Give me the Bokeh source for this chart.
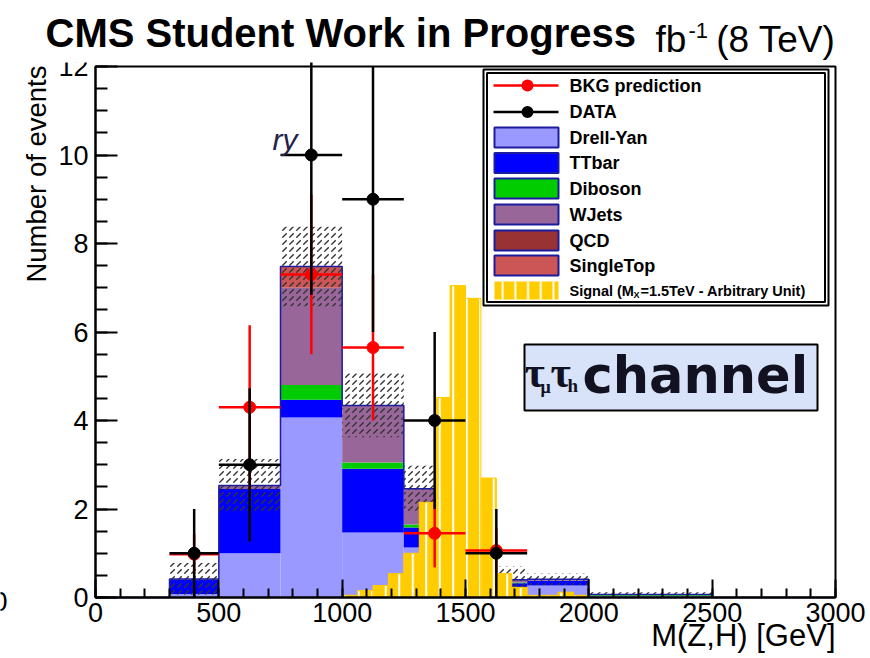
import numpy as np
from bokeh.plotting import figure
from bokeh.models import Range1d, SingleIntervalTicker, Label, BoxAnnotation
from bokeh.embed import file_html
from bokeh.resources import INLINE

# ---------------- background histogram binning [GeV] ----------------
bin_lo = [0, 100, 200, 300, 500, 750, 1000, 1250, 1500, 1750, 2000, 2500]
bin_hi = [100, 200, 300, 500, 750, 1000, 1250, 1500, 1750, 2000, 2500, 3000]

# simulated backgrounds, events per bin (stacked bottom -> top)
drell_yan = [0.00, 0.00, 0.00, 0.08, 1.00, 4.07, 1.47, 1.13, 0.22, 0.27, 0.04, 0.00]
ttbar     = [0.00, 0.00, 0.00, 0.32, 1.45, 0.40, 1.44, 0.45, 0.10, 0.11, 0.00, 0.00]
diboson   = [0.00, 0.00, 0.00, 0.00, 0.00, 0.33, 0.14, 0.07, 0.02, 0.00, 0.03, 0.00]
wjets     = [0.00, 0.00, 0.00, 0.02, 0.08, 2.20, 1.29, 0.81, 0.06, 0.03, 0.00, 0.00]
qcd       = [0.00, 0.00, 0.00, 0.00, 0.00, 0.00, 0.00, 0.00, 0.00, 0.00, 0.00, 0.00]
singletop = [0.00, 0.00, 0.00, 0.00, 0.00, 0.48, 0.00, 0.00, 0.00, 0.00, 0.00, 0.00]
mc_unc    = [0.00, 0.00, 0.00, 0.36, 0.60, 0.90, 0.72, 0.52, 0.30, 0.13, 0.05, 0.03]

stack_names = ["Drell-Yan", "TTbar", "Diboson", "WJets", "QCD", "SingleTop"]
stack_values = [drell_yan, ttbar, diboson, wjets, qcd, singletop]
stack_colors = ["#9999ff", "#0000ff", "#00cc00", "#996699", "#993333", "#cc5555"]

# signal M_X = 1.5 TeV (arbitrary normalisation), 62.5 GeV bins
sig_lo = [1000.0, 1062.5, 1125.0, 1187.5, 1250.0, 1312.5, 1375.0, 1437.5,
          1500.0, 1562.5, 1625.0, 1687.5, 1750.0, 1812.5, 1875.0, 1937.5]
sig_hi = [1062.5, 1125.0, 1187.5, 1250.0, 1312.5, 1375.0, 1437.5, 1500.0,
          1562.5, 1625.0, 1687.5, 1750.0, 1812.5, 1875.0, 1937.5, 2000.0]
signal = [0.05, 0.16, 0.27, 0.54, 1.00, 2.15, 4.52, 7.05,
          6.76, 2.70, 0.54, 0.23, 0.05, 0.05, 0.12, 0.05]

# observed events and data-driven background prediction
pt_mass     = [400, 625, 875, 1125, 1375, 1625]
pt_halfw    = [100, 125, 125, 125, 125, 125]
data_events = [1, 3, 10, 9, 4, 1]
data_err    = [1.00, 1.73, 3.16, 3.00, 2.00, 1.00]
bkg_pred    = [0.98, 4.30, 7.30, 5.65, 1.45, 1.06]
bkg_err     = [0.45, 1.85, 1.80, 1.65, 0.77, 0.50]

SANS = "Liberation Sans"
SERIF = "Liberation Serif"
RED = "#ff0000"
EDGE = "#1c1c9e"

# ---------------- canvas / frame geometry (pixels) ----------------
W, H = 870, 658
AX_L, AX_R, AX_T, AX_B = 95, 835, 66, 597      # where the axes box sits on the canvas
XMIN, XMAX, YMIN, YMAX = 0.0, 3000.0, 0.0, 12.0
xs = (XMAX - XMIN) / (AX_R - AX_L)
ys = (YMAX - YMIN) / (AX_B - AX_T)
x_range = Range1d(XMIN - AX_L * xs, XMAX + (W - AX_R) * xs)
y_range = Range1d(YMIN - (H - AX_B) * ys, YMAX + AX_T * ys)

p = figure(width=W, height=H, x_range=x_range, y_range=y_range,
           output_backend="svg", toolbar_location=None, min_border=0)
p.xgrid.visible = False
p.ygrid.visible = False
p.background_fill_color = "white"
p.border_fill_color = "white"
p.outline_line_color = None

# axes sit on the data origin inside the drawing area
p.xaxis.fixed_location = 0
p.yaxis.fixed_location = 0
p.xaxis.bounds = (XMIN, XMAX)
p.yaxis.bounds = (YMIN, YMAX)
p.xaxis.ticker = SingleIntervalTicker(interval=500, num_minor_ticks=5)
p.yaxis.ticker = SingleIntervalTicker(interval=2, num_minor_ticks=4)
for ax in (p.xaxis, p.yaxis):
    ax.axis_line_width = 2
    ax.axis_line_color = "black"
    ax.major_tick_line_width = 2
    ax.minor_tick_line_width = 2
    ax.major_tick_out = 0
    ax.minor_tick_out = 0
    ax.major_label_text_font = SANS
    ax.major_label_text_font_size = "27px"
    ax.major_label_text_color = "black"
p.xaxis.major_tick_in = 18
p.xaxis.minor_tick_in = 9
p.yaxis.major_tick_in = 22
p.yaxis.minor_tick_in = 12
p.xaxis.major_label_standoff = 5
p.yaxis.major_label_standoff = 7

# ---------------- stacked backgrounds ----------------
base = np.zeros(len(bin_lo))
for vals, col in zip(stack_values, stack_colors):
    top = base + np.asarray(vals)
    p.quad(left=bin_lo, right=bin_hi, bottom=base, top=top,
           fill_color=col, line_color=None)
    base = top
total = base

# MC statistical uncertainty band
p.quad(left=bin_lo, right=bin_hi,
       bottom=np.clip(total - np.asarray(mc_unc), 0, None),
       top=total + np.asarray(mc_unc),
       fill_color=None, line_color=None,
       hatch_pattern=",", hatch_color="#333333", hatch_scale=7, hatch_weight=1.3)

# outline of the summed stack
p.step(x=bin_lo + [bin_hi[-1]], y=list(total) + [total[-1]], mode="after",
       line_color=EDGE, line_width=1.5)

# signal
p.quad(left=sig_lo, right=sig_hi, bottom=0, top=signal,
       fill_color="#ffcc00", line_color="#ffcc00", line_width=1,
       hatch_pattern="|", hatch_color="white", hatch_scale=13.5, hatch_weight=2)

# background prediction (red)
bx = np.asarray(pt_mass, dtype=float)
bw = np.asarray(pt_halfw, dtype=float)
by = np.asarray(bkg_pred)
be = np.asarray(bkg_err)
p.segment(x0=bx - bw, x1=bx + bw, y0=by, y1=by, line_color=RED, line_width=2.5)
p.segment(x0=bx, x1=bx, y0=by - be, y1=by + be, line_color=RED, line_width=2.5)
p.scatter(bx, by, size=12, marker="circle", fill_color=RED, line_color=RED)

# data (black)
dy = np.asarray(data_events, dtype=float)
de = np.asarray(data_err)
p.segment(x0=bx - bw, x1=bx + bw, y0=dy, y1=dy, line_color="black", line_width=2.5)
p.segment(x0=bx, x1=bx, y0=dy - de, y1=dy + de, line_color="black", line_width=2.5)
p.scatter(bx, dy, size=12, marker="circle", fill_color="black", line_color="black")

# axes box
p.add_layout(BoxAnnotation(left=XMIN, right=XMAX, bottom=YMIN, top=YMAX,
                           fill_color=None, fill_alpha=0, line_color="black",
                           line_alpha=1, line_width=2))


# ---------------- annotations, placed in canvas pixels ----------------
def sx(px):
    return px


def sy(py):
    return H - py


def box(l, r, t, b, **kw):
    kw.setdefault("fill_alpha", 1.0)
    kw.setdefault("line_color", None)
    kw.setdefault("line_alpha", 1.0)
    p.add_layout(BoxAnnotation(left=sx(l), right=sx(r), top=sy(t), bottom=sy(b),
                               left_units="screen", right_units="screen",
                               top_units="screen", bottom_units="screen", **kw))


def text(px, py, s, size, style="normal", font=SANS, align="left",
         color="black", angle=0.0):
    # (px, py) is the middle of the text line
    p.add_layout(Label(x=sx(px), y=sy(py), x_units="screen", y_units="screen", text=s,
                       text_font=font, text_font_size=f"{size}px", text_font_style=style,
                       text_align=align, text_baseline="middle", text_color=color,
                       angle=angle))


# white title band across the top of the canvas
box(-2, W + 2, -2, 62, fill_color="white")

# title line
text(45, 32, "CMS Student Work in Progress", 40, style="bold")
text(655, 38.5, "fb", 37)
text(688, 30, "-1", 22)
text(835, 38.5, "(8 TeV)", 37, align="right")

# axis titles
text(835, 635, "M(Z,H) [GeV]", 31, align="right")
text(35.5, 65, "Number of events", 27.5, align="right", angle=np.pi / 2)
text(7, 601, "0", 27, align="right")
text(272, 139, "ry", 30, style="italic", color="#22224a")

# legend
box(483, 828, 69, 305, fill_color="white", line_color="black", line_width=2)
box(486.5, 824.5, 72.5, 301.5, fill_color=None, fill_alpha=0, line_color="black", line_width=2)
rows = [85, 111.5, 137, 162.5, 188, 214, 240, 265, 290]

for cy, col in zip(rows[:2], [RED, "black"]):
    box(493, 558, cy - 1.2, cy + 1.2, fill_color=col)
    box(521, 533, cy - 6, cy + 6, fill_color=col, border_radius=6)
text(569, rows[0], "BKG prediction", 18, style="bold")
text(569, rows[1], "DATA", 18, style="bold")

for cy, name, col in zip(rows[2:8], stack_names, stack_colors):
    box(494, 558, cy - 10, cy + 10, fill_color=col, line_color=EDGE, line_width=2)
    text(569, cy, name, 18, style="bold")

cy = rows[8]
box(494, 558, cy - 9, cy + 9, fill_color="#ffcc00",
    hatch_pattern="|", hatch_color="white", hatch_scale=12.7, hatch_weight=2)
text(569, cy, "Signal (M", 14.5, style="bold")
text(633, cy + 4, "X", 9, style="bold")
text(640, cy, "=1.5TeV - Arbitrary Unit)", 14.5, style="bold")

# channel tag
box(524, 817, 344, 410, fill_color="#d8e3f9", line_color="black", line_width=2)
INK = "#111122"
text(524, 372, "\u03c4", 44, style="bold", font=SERIF, color=INK)
text(540, 386, "\u03bc", 18, style="bold", font=SERIF, color=INK)
text(550, 372, "\u03c4", 44, style="bold", font=SERIF, color=INK)
text(567, 385, "h", 19, style="bold", font=SERIF, color=INK)
text(582, 374.5, "channel", 51, style="bold", font="DejaVu Sans", color=INK)

open("out.html", "w").write(file_html(p, INLINE))
